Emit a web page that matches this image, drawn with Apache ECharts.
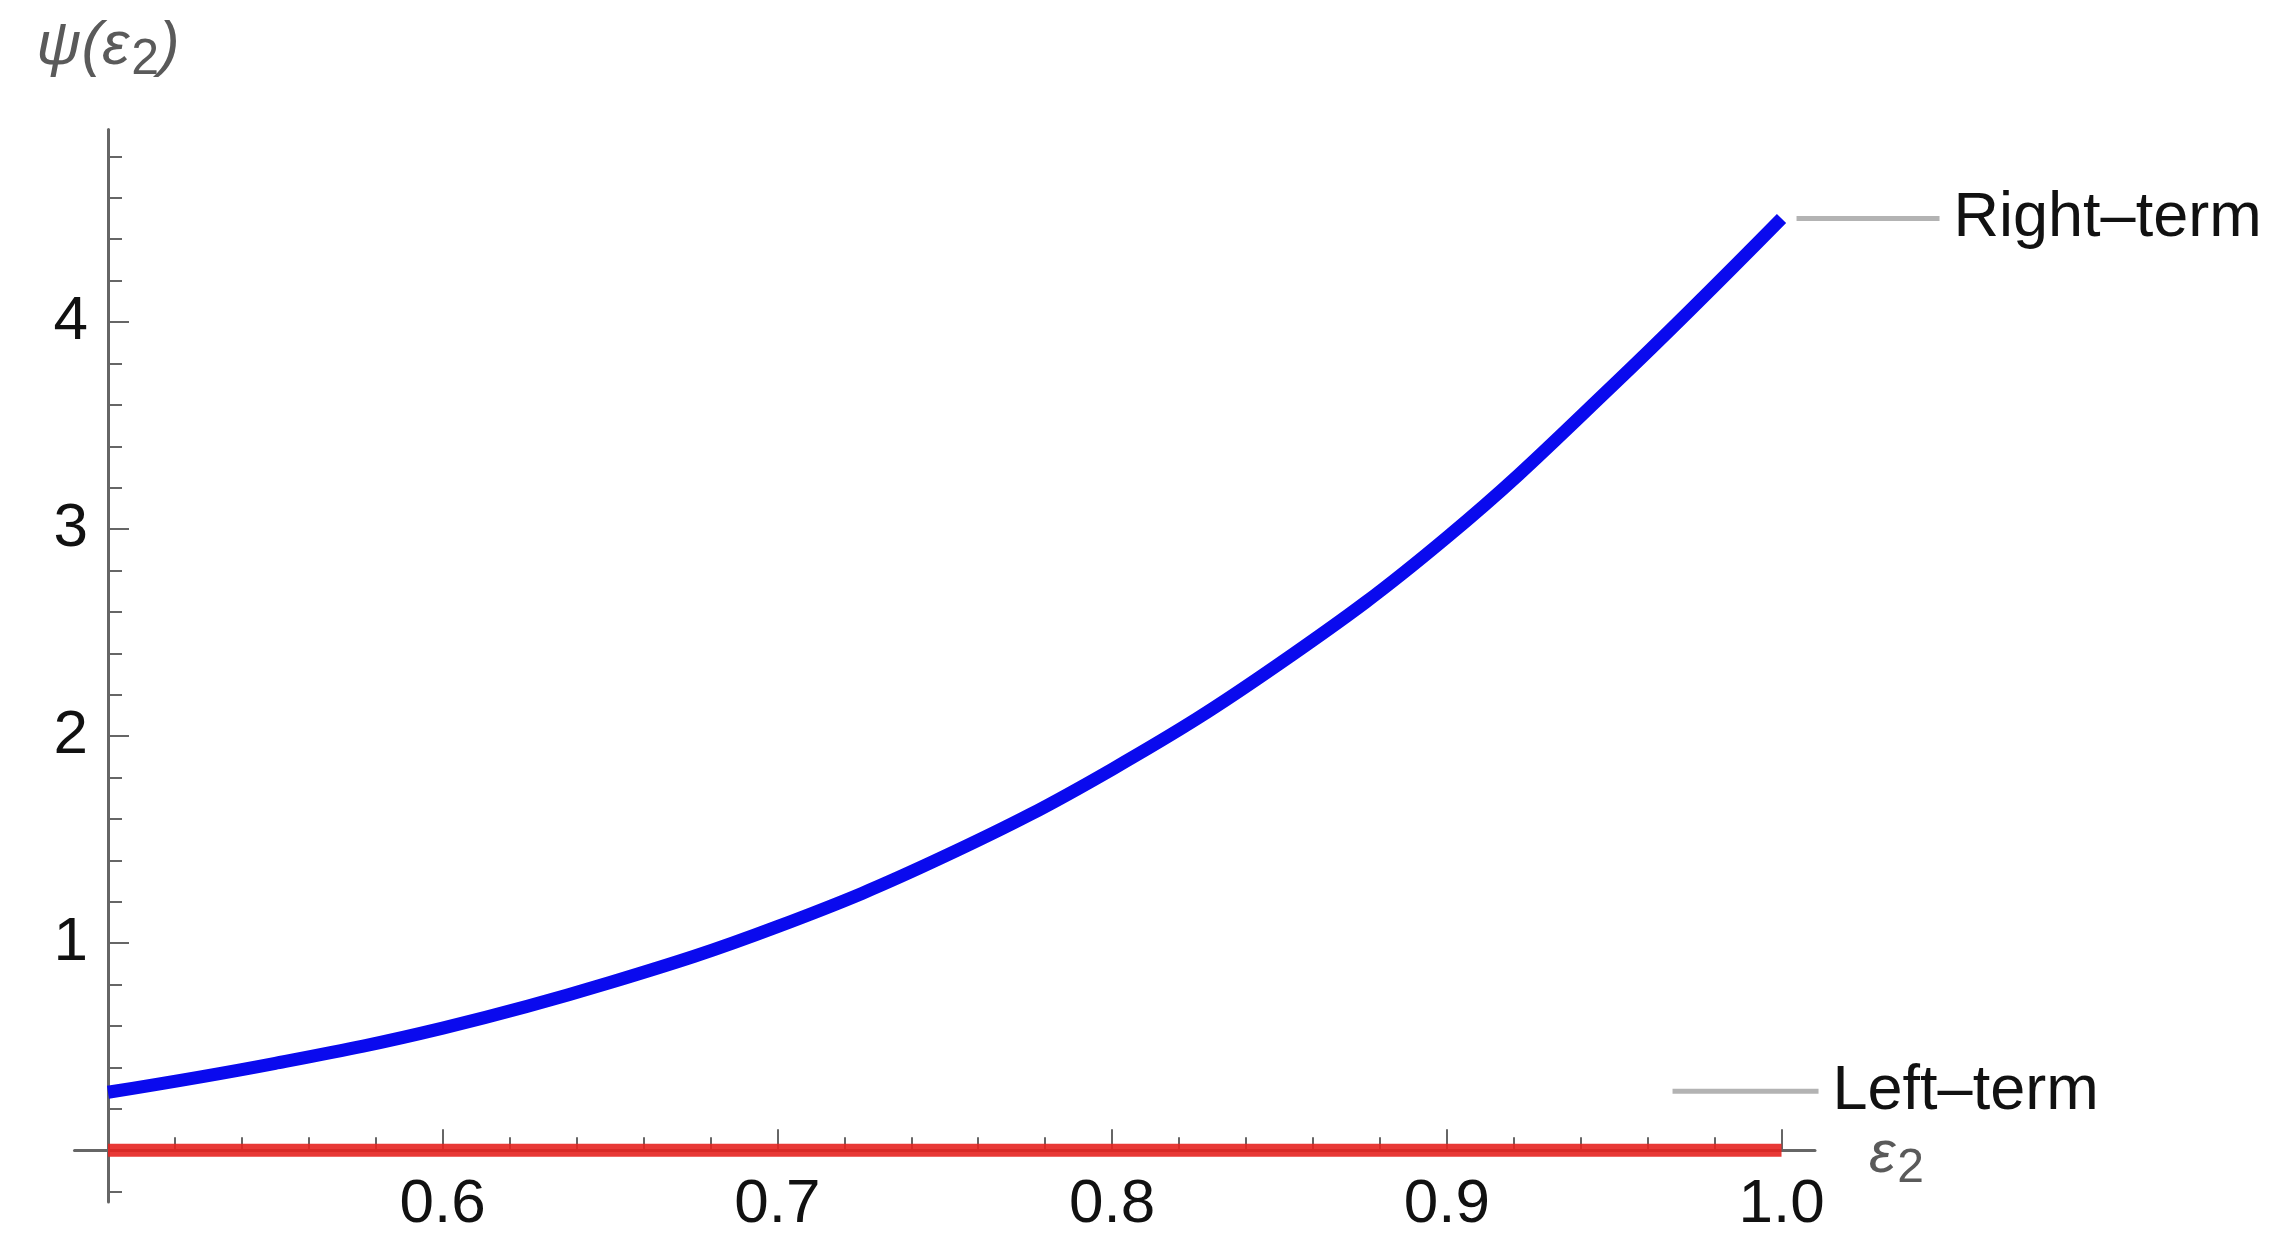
<!DOCTYPE html>
<html>
<head>
<meta charset="utf-8">
<script src="https://cdn.jsdelivr.net/npm/echarts@6/dist/echarts.min.js"></script>
<style>
  html, body { margin: 0; padding: 0; background: #fff; }
  #main { width: 2289px; height: 1251px; }
</style>
</head>
<body>
<div id="main"></div>
<script>
// values
var eps = [0.5, 0.55, 0.6, 0.65, 0.7, 0.75, 0.8, 0.85, 0.9, 0.95, 1.0]
var rightTerm = [0.28, 0.42, 0.59, 0.81, 1.08, 1.42, 1.84, 2.35, 2.96, 3.70, 4.50]
var leftTerm = [0, 0, 0, 0, 0, 0, 0, 0, 0, 0, 0]
var xTicks = [0.6, 0.7, 0.8, 0.9, 1.0]
var yTicks = [0, 1, 2, 3, 4]
var yLabels = [1, 2, 3, 4]

var font = "'Liberation Sans', Arial, sans-serif"
var axisGray = '#666666'
var nameGray = '#5a5a5a'

var pairs = (xs, ys) => xs.map((x, i) => [x, ys[i]])

// italic symbol with a lowered subscript
var mathRich = (size) => ({
  a: {fontSize: size, fontStyle: 'italic', fontFamily: font, color: nameGray},
  s: {fontSize: Math.round(size * 0.8), fontFamily: font, color: nameGray, padding: [Math.round(size * 0.45), 0, 0, 2]}
})

var chart = echarts.init(document.getElementById('main'), null, {renderer: 'canvas'})

var option = {
  animation: false,
  backgroundColor: '#ffffff',
  grid: {
    left: 74.5,
    right: 474,
    top: 129.5,
    bottom: 49,
    containLabel: false,
    outerBoundsMode: 'none'
  },
  xAxis: {
    type: 'value',
    min: 0.49,
    max: 1.01,
    splitNumber: 5,
    // axis sits at y = 0, moved up from the grid bottom
    offset: -51.8,
    name: '{a|ε}{s|2}',
    nameLocation: 'end',
    nameGap: 54,
    nameTextStyle: {
      rich: mathRich(60),
      padding: [10, 0, 0, 0]
    },
    axisLine: {
      onZero: false,
      lineStyle: {color: axisGray, width: 3}
    },
    axisTick: {
      inside: true,
      length: 21,
      customValues: xTicks,
      lineStyle: {color: axisGray, width: 2}
    },
    minorTick: {
      show: true,
      splitNumber: 5,
      length: 13,
      lineStyle: {color: axisGray, width: 2}
    },
    axisLabel: {
      customValues: xTicks,
      margin: 24,
      fontSize: 62,
      fontFamily: font,
      color: '#111',
      formatter: (v) => v.toFixed(1)
    },
    splitLine: {show: false}
  },
  yAxis: {
    type: 'value',
    min: -0.25,
    max: 4.93,
    splitNumber: 5,
    offset: -33.5,
    name: '{a|ψ(ε}{s|2}{a|)}',
    nameLocation: 'end',
    nameGap: 44,
    nameTextStyle: {
      rich: mathRich(62)
    },
    axisLine: {
      show: true,
      onZero: false,
      lineStyle: {color: axisGray, width: 3}
    },
    axisTick: {
      show: true,
      inside: true,
      length: 21,
      customValues: yTicks,
      lineStyle: {color: axisGray, width: 2}
    },
    minorTick: {
      show: true,
      splitNumber: 5,
      length: 14,
      lineStyle: {color: axisGray, width: 2}
    },
    axisLabel: {
      customValues: yLabels,
      margin: 20,
      fontSize: 62,
      fontFamily: font,
      color: '#111'
    },
    splitLine: {show: false}
  },
  series: [
    {
      name: 'Left-term',
      type: 'line',
      data: pairs(eps, leftTerm),
      showSymbol: false,
      lineStyle: {color: '#e62420', width: 13, opacity: 0.9},
      endLabel: {
        show: true,
        distance: 0,
        offset: [-109, -59],
        formatter: '{ln|}{tx|Left–term}',
        rich: {
          ln: {width: 146, height: 5, backgroundColor: '#b3b3b3'},
          tx: {fontSize: 63, fontFamily: font, color: '#111', padding: [0, 0, 0, 14]}
        }
      },
      z: 3
    },
    {
      name: 'Right-term',
      type: 'line',
      data: pairs(eps, rightTerm),
      smooth: 0.4,
      showSymbol: false,
      lineStyle: {color: '#0a0aee', width: 13},
      endLabel: {
        show: true,
        distance: 15,
        formatter: '{ln|}{tx|Right–term}',
        rich: {
          ln: {width: 143, height: 5, backgroundColor: '#b3b3b3'},
          tx: {fontSize: 63, fontFamily: font, color: '#111', padding: [0, 0, 0, 14]}
        }
      },
      z: 4
    }
  ]
}

chart.setOption(option, true)
</script>
</body>
</html>
